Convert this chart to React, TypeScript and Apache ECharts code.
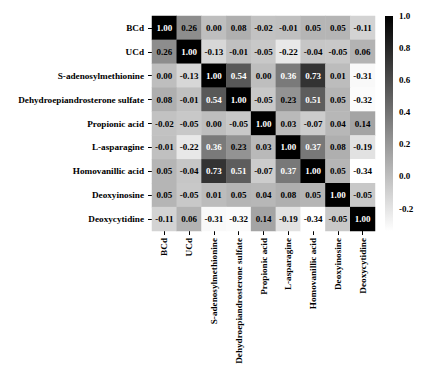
import React, { useEffect, useRef } from "react";
import * as echarts from "echarts";

const labels = [
  "BCd",
  "UCd",
  "S-adenosylmethionine",
  "Dehydroepiandrosterone sulfate",
  "Propionic acid",
  "L-asparagine",
  "Homovanillic acid",
  "Deoxyinosine",
  "Deoxycytidine",
];

const matrix: number[][] = [
  [1.0, 0.26, 0.0, 0.08, -0.02, -0.01, 0.05, 0.05, -0.11],
  [0.26, 1.0, -0.13, -0.01, -0.05, -0.22, -0.04, -0.05, 0.06],
  [0.0, -0.13, 1.0, 0.54, 0.0, 0.36, 0.73, 0.01, -0.31],
  [0.08, -0.01, 0.54, 1.0, -0.05, 0.23, 0.51, 0.05, -0.32],
  [-0.02, -0.05, 0.0, -0.05, 1.0, 0.03, -0.07, 0.04, 0.14],
  [-0.01, -0.22, 0.36, 0.23, 0.03, 1.0, 0.37, 0.08, -0.19],
  [0.05, -0.04, 0.73, 0.51, -0.07, 0.37, 1.0, 0.05, -0.34],
  [0.05, -0.05, 0.01, 0.05, 0.04, 0.08, 0.05, 1.0, -0.05],
  [-0.11, 0.06, -0.31, -0.32, 0.14, -0.19, -0.34, -0.05, 1.0],
];

const colorbarTicks = [-0.2, 0.0, 0.2, 0.4, 0.6, 0.8, 1.0];
const vMin = -0.34;
const vMax = 1.0;

const greys = ["#ffffff", "#000000"];

const FONT = "Liberation Serif";

export default function App() {
  const ref = useRef<HTMLDivElement>(null);
  useEffect(() => {
    if (!ref.current) return;
    const chart = echarts.init(ref.current, null, { renderer: "svg" });
    const data: any[] = [];
    matrix.forEach((row, r) => {
      row.forEach((v, c) => {
        data.push({
          value: [c, r, v],
          label: { color: v >= 0.3 ? "#ffffff" : "#000000" },
        });
      });
    });
    const gx = 152, gy = 16, gw = 223, gh = 215;
    const cbx = 385, cbw = 8;
    chart.setOption({
      animation: false,
      backgroundColor: "#ffffff",
      textStyle: { fontFamily: FONT },
      grid: [
        { left: gx, top: gy, width: gw, height: gh },
        { left: cbx, top: gy, width: cbw, height: gh },
      ],
      xAxis: [
        {
          type: "category",
          data: labels,
          gridIndex: 0,
          position: "bottom",
          axisLine: { show: false },
          axisTick: { show: true, length: 4, alignWithLabel: true, lineStyle: { color: "#000" } },
          axisLabel: {
            rotate: 90,
            interval: 0,
            fontFamily: FONT,
            fontWeight: "bold",
            fontSize: 9.2,
            color: "#000",
            margin: 7,
          },
          splitLine: { show: false },
        },
        {
          type: "value",
          gridIndex: 1,
          show: false,
          min: 0,
          max: 1,
        },
      ],
      yAxis: [
        {
          type: "category",
          data: labels,
          gridIndex: 0,
          inverse: true,
          axisLine: { show: false },
          axisTick: { show: true, length: 4, alignWithLabel: true, lineStyle: { color: "#000" } },
          axisLabel: {
            interval: 0,
            fontFamily: FONT,
            fontWeight: "bold",
            fontSize: 9.2,
            color: "#000",
            margin: 8,
          },
          splitLine: { show: false },
        },
        {
          type: "value",
          gridIndex: 1,
          position: "right",
          min: vMin,
          max: vMax,
          axisLine: { show: false },
          splitLine: { show: false },
          axisTick: {
            show: true,
            length: 4,
            customValues: colorbarTicks,
            lineStyle: { color: "#000" },
          },
          axisLabel: {
            customValues: colorbarTicks,
            formatter: (v: number) => v.toFixed(1),
            fontFamily: FONT,
            fontWeight: "bold",
            fontSize: 9,
            color: "#000",
            margin: 6,
          },
        },
      ],
      visualMap: {
        show: false,
        type: "continuous",
        min: vMin,
        max: vMax,
        seriesIndex: 0,
        inRange: { color: greys },
      },
      graphic: [
        {
          type: "rect",
          shape: { x: cbx, y: gy, width: cbw, height: gh },
          style: {
            fill: new echarts.graphic.LinearGradient(0, 0, 0, 1, [
              { offset: 0, color: "#000000" },
              { offset: 1, color: "#ffffff" },
            ]),
          },
          z: 10,
        },
      ],
      series: [
        {
          type: "heatmap",
          xAxisIndex: 0,
          yAxisIndex: 0,
          data,
          label: {
            show: true,
            fontFamily: FONT,
            fontWeight: "bold",
            fontSize: 9,
            formatter: (p: any) => p.value[2].toFixed(2),
          },
          itemStyle: { borderWidth: 0 },
          emphasis: { disabled: true },
        },
      ],
    });
    return () => chart.dispose();
  }, []);
  return (
    <div
      ref={ref}
      style={{ position: "absolute", left: 0, top: 0, width: 427, height: 371 }}
    />
  );
}
